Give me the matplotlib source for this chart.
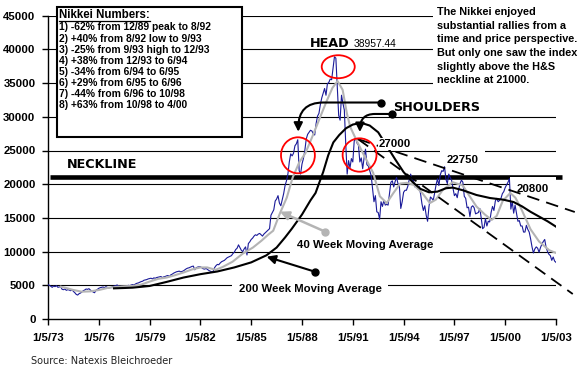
import numpy as np
import matplotlib
matplotlib.use('Agg')
import matplotlib.pyplot as plt
from matplotlib.patches import Ellipse, Rectangle
from matplotlib.lines import Line2D

plt.rcParams['font.family'] = ['Liberation Sans', 'DejaVu Sans']

# Nikkei 225, monthly closes, Jan 1973 .. Jan 2003
nikkei_close = [
    5100, 5000, 4850, 4700, 4900, 4800, 4950, 4700, 4750, 4800, 4400, 4350,          # 1973
    4450, 4250, 4350, 4300, 4200, 4350, 4100, 3900, 3650, 3550, 3750, 3850,          # 1974
    4000, 4200, 4300, 4450, 4400, 4500, 4300, 4150, 4000, 3900, 4250, 4400,          # 1975
    4550, 4650, 4700, 4750, 4650, 4800, 4700, 4600, 4650, 4700, 4800, 4900,          # 1976
    4950, 5050, 4900, 4800, 4850, 4800, 4750, 4850, 4900, 5000, 4950, 5050,          # 1977
    5100, 5050, 5200, 5300, 5350, 5450, 5550, 5600, 5750, 5800, 5850, 5950,          # 1978
    6000, 6050, 5950, 6100, 6050, 6150, 6200, 6250, 6300, 6150, 6250, 6300,          # 1979
    6400, 6450, 6300, 6550, 6650, 6800, 6900, 7000, 7050, 7100, 7000, 7050,          # 1980
    7150, 7300, 7450, 7550, 7600, 7700, 7800, 7850, 7300, 7600, 7700, 7750,          # 1981
    7750, 7600, 7450, 7400, 7500, 7350, 7200, 7100, 7000, 7050, 7600, 7900,          # 1982
    8100, 8050, 8300, 8500, 8600, 8700, 8900, 9100, 9200, 9300, 9400, 9700,          # 1983
    9900, 10300, 10500, 11000, 10600, 10200, 10000, 10400, 10700, 9500, 11200, 11450,  # 1984
    11800, 12000, 12300, 12500, 12400, 12600, 12700, 12500, 12300, 12600, 12800, 13000,  # 1985
    13200, 13400, 15400, 15800, 16200, 17500, 17800, 18300, 17200, 16800, 17700, 18600,  # 1986
    19800, 20500, 21500, 23300, 24500, 24200, 24600, 25700, 26000, 26600, 22000, 21500,  # 1987
    23000, 23800, 25000, 26700, 27400, 27700, 28000, 27900, 27500, 27300, 29000, 30100,  # 1988
    30500, 31800, 32800, 33500, 34200, 33200, 34900, 35100, 35600, 35500, 37200, 38900,  # 1989
    38700, 34500, 30200, 29500, 33200, 32000, 31000, 26000, 21500, 23500, 22400, 23800,  # 1990
    23300, 26400, 26800, 26100, 25800, 23300, 23900, 22300, 23900, 25200, 22900, 22700,  # 1991
    22000, 21300, 19300, 17400, 18300, 15900, 15800, 14800, 17400, 16700, 17600, 16900,  # 1992
    17000, 16900, 18600, 20300, 20500, 19600, 20400, 21000, 20100, 19700, 16400, 17400,  # 1993
    18800, 19100, 19100, 19700, 20700, 21500, 20500, 20600, 19600, 19900, 19300, 19700,  # 1994
    18600, 17100, 16100, 16800, 15400, 14500, 16700, 18100, 17900, 17600, 18700, 19900,  # 1995
    20800, 19800, 21400, 22000, 21900, 22600, 20700, 20100, 21500, 21000, 20600, 19400,  # 1996
    18300, 18600, 18000, 19200, 20100, 20600, 20300, 18200, 17900, 16500, 16600, 15200,  # 1997
    16600, 16800, 16500, 15600, 15700, 15800, 16400, 15000, 13400, 13600, 14900, 13800,  # 1998
    14500, 14400, 15800, 16700, 16100, 17500, 17900, 17400, 17600, 17900, 18600, 18900,  # 1999
    19500, 19900, 20300, 20800, 16300, 17400, 15700, 16900, 15700, 14500, 14600, 13800,  # 2000
    13800, 12900, 12900, 13900, 13300, 12900, 11900, 10700, 9800, 10400, 10700, 10500,   # 2001
    9900, 10600, 11100, 11500, 11800, 10600, 10000, 9600, 9400, 8700, 9200, 8600,        # 2002
    8400,                                                                                 # 2003
]
month_years = 1973 + np.arange(len(nikkei_close)) / 12.0

# 40 week moving average (grey)
ma40_years = [1973.75, 1974.0, 1974.5, 1975.0, 1975.5, 1976.0, 1976.5, 1977.0, 1977.5, 1978.0,
              1978.5, 1979.0, 1979.5, 1980.0, 1980.5, 1981.0, 1981.5, 1982.0, 1982.4, 1982.9,
              1983.3, 1983.9, 1984.5, 1985.1, 1985.6, 1986.0, 1986.3, 1986.7, 1987.1, 1987.45,
              1987.85, 1988.2, 1988.65, 1989.0, 1989.45, 1989.8, 1990.1, 1990.4, 1990.65, 1990.85,
              1991.2, 1991.6, 1992.2, 1992.6, 1993.0, 1993.4, 1993.8, 1994.2, 1994.6, 1995.1,
              1995.55, 1995.9, 1996.3, 1996.9, 1997.5, 1997.8, 1998.3, 1998.8, 1999.2, 1999.5,
              1999.85, 2000.3, 2000.6, 2000.9, 2001.5, 2002.0, 2002.6, 2003.0]
ma40_values = [4800, 4650, 4300, 4050, 4100, 4300, 4600, 4750, 4850, 4900,
               5100, 5550, 5950, 6150, 6500, 6900, 7350, 7650, 7650, 7300,
               7700, 8500, 9700, 10600, 11600, 12500, 13100, 15700, 18000, 21000,
               23300, 24600, 27300, 29500, 32300, 34300, 35300, 34000, 30500, 28500,
               26600, 24600, 21700, 18200, 17200, 18700, 20100, 20200, 19900, 18700,
               17200, 17700, 19100, 20300, 19800, 18600, 16700, 15500, 14700, 15300,
               17500, 18700, 18000, 16600, 13300, 11500, 10200, 9800]

# 200 week moving average (black)
ma200_years = [1976.9, 1977.5, 1978.0, 1979.0, 1980.0, 1981.0, 1982.0, 1983.0, 1984.0, 1985.0,
               1985.9, 1986.5, 1987.0, 1987.4, 1988.0, 1988.5, 1988.8, 1989.25, 1989.55, 1989.85,
               1990.2, 1990.6, 1991.0, 1991.5, 1992.0, 1992.5, 1993.0, 1993.5, 1994.0, 1994.5,
               1995.0, 1995.5, 1996.0, 1996.5, 1996.9, 1997.5, 1998.3, 1999.1, 1999.9, 2000.5,
               2001.0, 2001.5, 2002.0, 2002.5, 2003.0]
ma200_values = [4550, 4600, 4650, 4900, 5500, 6150, 6650, 7050, 7650, 8400,
                9450, 10600, 12100, 13400, 15500, 17600, 18700, 21800, 24300, 26200,
                27300, 28300, 28850, 29100, 28700, 27700, 25700, 23700, 21800, 20400,
                19300, 18800, 18900, 19400, 19500, 19100, 18400, 17950, 17700, 17350,
                16700, 15900, 15200, 14500, 13700]

tick_years = [1973, 1976, 1979, 1982, 1985, 1988, 1991, 1994, 1997, 2000, 2003]
tick_labels = ['1/5/73', '1/5/76', '1/5/79', '1/5/82', '1/5/85', '1/5/88',
               '1/5/91', '1/5/94', '1/5/97', '1/5/00', '1/5/03']

numbers_lines = ["1) -62% from 12/89 peak to 8/92",
                 "2) +40% from 8/92 low to 9/93",
                 "3) -25% from 9/93 high to 12/93",
                 "4) +38% from 12/93 to 6/94",
                 "5) -34% from 6/94 to 6/95",
                 "6) +29% from 6/95 to 6/96",
                 "7) -44% from 6/96 to 10/98",
                 "8) +63% from 10/98 to 4/00"]

note_lines = ["The Nikkei enjoyed",
              "substantial rallies from a",
              "time and price perspective.",
              "But only one saw the index",
              "slightly above the H&S",
              "neckline at 21000."]

W, H = 583, 371
def fx(px):
    return px / W
def fy(py):
    return 1 - py / H

fig = plt.figure(figsize=(W / 100, H / 100), dpi=100)
ax = fig.add_axes([fx(48), fy(319), (556 - 48) / W, (319 - 15.7) / H])

for v in range(5000, 45001, 5000):
    ax.axhline(v, color='black', lw=0.8, zorder=1)

# neckline
ax.plot([1973.1, 2003.35], [21000, 21000], color='black', lw=3.3, zorder=2,
        solid_capstyle='butt', clip_on=False)

ax.plot(month_years, nikkei_close, color='#1a1a99', lw=0.8, zorder=4)
ax.plot(ma40_years, ma40_values, color='#b4b4b4', lw=1.5, zorder=5)
ax.plot(ma200_years, ma200_values, color='black', lw=1.5, zorder=5)

# trend lines from the right shoulder
ax.plot([1991.30, 2004.11], [26706, 15875], color='black', lw=1.3, dashes=(7, 4),
        zorder=5, clip_on=False)
ax.plot([1991.30, 2003.99], [26706, 3709], color='black', lw=1.3, dashes=(7, 4),
        zorder=5, clip_on=False)

# circles
for (cx, cy, w, h) in [(1990.14, 37430, 1.95, 3410),
                       (1987.76, 24290, 2.0, 5340),
                       (1991.40, 24330, 2.0, 4950)]:
    ax.add_patch(Ellipse((cx, cy), w, h, fill=False, ec='red', lw=1.3, zorder=7))

# arrows
ax.annotate('', xy=(1986.70, 15920), xytext=(1989.35, 12980),
            arrowprops=dict(arrowstyle='-|>', color='#b4b4b4', lw=1.8, mutation_scale=13,
                            shrinkA=0, shrinkB=0), zorder=6)
ax.plot(1989.35, 12980, 'o', color='#b4b4b4', ms=5, zorder=6)
ax.annotate('', xy=(1985.91, 9243), xytext=(1988.76, 7018),
            arrowprops=dict(arrowstyle='-|>', color='black', lw=1.5, mutation_scale=13,
                            shrinkA=0, shrinkB=0), zorder=6)
ax.plot(1988.76, 7018, 'o', color='black', ms=5, zorder=6)

ax.annotate('', xy=(1987.78, 27790), xytext=(1992.66, 32120),
            arrowprops=dict(arrowstyle='-|>', color='black', lw=1.5, mutation_scale=13,
                            shrinkA=0, shrinkB=0,
                            connectionstyle='angle,angleA=180,angleB=90,rad=25'), zorder=6)
ax.plot(1992.66, 32120, 'o', color='black', ms=5, zorder=6)
ax.annotate('', xy=(1991.42, 27740), xytext=(1993.31, 30420),
            arrowprops=dict(arrowstyle='-|>', color='black', lw=1.5, mutation_scale=13,
                            shrinkA=0, shrinkB=0,
                            connectionstyle='angle,angleA=180,angleB=90,rad=15'), zorder=6)
ax.plot(1993.31, 30420, 'o', color='black', ms=5, zorder=6)

# labels
big = dict(family='DejaVu Sans', fontweight='bold', fontsize=9.2, zorder=3)
ax.text(1976.22, 22400, 'NECKLINE', ha='center', va='baseline', **big)
ax.text(1988.47, 40360, 'HEAD', ha='left', va='baseline', **big)
ax.text(1993.37, 30930, 'SHOULDERS', ha='left', va='baseline', **big)
ax.text(1991.06, 40360, '38957.44', ha='left', va='baseline', fontsize=7.4, zorder=3)

white = dict(boxstyle='square,pad=0.6', fc='white', ec='none')
for (lx, ly, s) in [(1997.47, 23150, '22750'),
                    (2001.63, 18840, '20800'), (1991.74, 10530, '40 Week Moving Average'),
                    (1988.47, 4080, '200 Week Moving Average')]:
    ax.text(lx, ly, s, ha='center', va='baseline', fontsize=8.2, fontweight='bold',
            bbox=white, zorder=3)
ax.text(1993.48, 25520, '27000', ha='center', va='baseline', fontsize=8.2, fontweight='bold',
        bbox=dict(boxstyle='square,pad=0.1', fc='white', ec='none'), zorder=6)

ax.set_xlim(1973, 2003)
ax.set_ylim(0, 45000)
ax.set_xticks(tick_years)
ax.set_xticklabels(tick_labels)
ax.set_yticks(range(0, 45001, 5000))
ax.tick_params(direction='out', length=4.5, width=1, labelsize=8.2, color='black')
ax.tick_params(axis='x', pad=5.5)
ax.tick_params(axis='y', pad=4.5)
for lab in ax.get_xticklabels() + ax.get_yticklabels():
    lab.set_fontweight('bold')
for side in ['top', 'right']:
    ax.spines[side].set_visible(False)
for side in ['left', 'bottom']:
    ax.spines[side].set_linewidth(1)

# Nikkei numbers box
fig.add_artist(Rectangle((fx(57), fy(137)), (242 - 57) / W, (137 - 7) / H,
                         transform=fig.transFigure, fc='white', ec='black', lw=1.5, zorder=2))
fig.text(fx(59), fy(18.5), 'Nikkei Numbers:', fontsize=8.3, fontweight='bold',
         va='baseline', zorder=4)
fig.add_artist(Line2D([fx(59), fx(150)], [fy(20.5), fy(20.5)], transform=fig.transFigure,
                      color='black', lw=0.9, zorder=4))
for i, line in enumerate(numbers_lines):
    fig.text(fx(59), fy(30.5 + 11.1 * i), line, fontsize=7.4, fontweight='bold',
             va='baseline', zorder=4)

# note top right
fig.add_artist(Rectangle((fx(433), fy(86)), (W - 433) / W, 86 / H,
                         transform=fig.transFigure, fc='white', ec='none', zorder=2))
for i, line in enumerate(note_lines):
    fig.text(fx(437), fy(15 + 13.65 * i), line, fontsize=7.8, fontweight='bold',
             va='baseline', zorder=4)

fig.text(fx(31), fy(361), 'Source: Natexis Bleichroeder', fontsize=7, family='DejaVu Sans',
         color='#222222', va='center')

fig.savefig('out.png', dpi=100)
